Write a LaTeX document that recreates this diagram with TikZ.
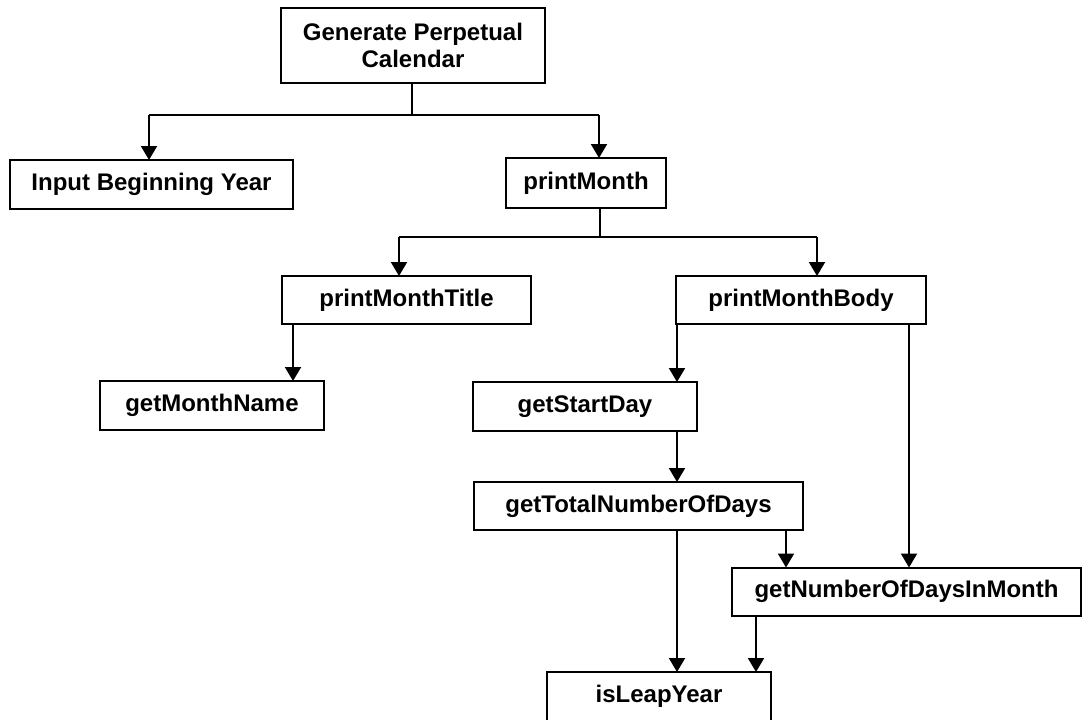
\documentclass[tikz,border=0pt]{standalone}
\usepackage{fontspec}
\setmainfont{Liberation Sans}
\usetikzlibrary{arrows.meta}
\begin{document}
\begin{tikzpicture}[x=0.5pt,y=-0.5pt,
  box/.style={draw,line width=1pt,rectangle,inner sep=0pt,outer sep=0pt,
    font=\bfseries\fontsize{12pt}{13.8pt}\selectfont,align=center},
  tline/.style={line width=0.7pt},
  arr/.style={line width=1pt,-{Triangle[width=8pt,length=7pt]}}]
\useasboundingbox (0,0) rectangle (1082,719);
% boxes
\node[box,minimum width=132pt,minimum height=37.5pt] (gen) at (413,45.5) {Generate Perpetual\\Calendar};
\node[box,minimum width=141.5pt,minimum height=24.5pt] (input) at (151.5,184.5) {Input Beginning Year};
\node[box,minimum width=80pt,minimum height=25pt] (pm) at (586,183) {printMonth};
\node[box,minimum width=124.5pt,minimum height=24pt] (pmt) at (406.5,300) {printMonthTitle};
\node[box,minimum width=125pt,minimum height=24pt] (pmb) at (801,300) {printMonthBody};
\node[box,minimum width=112pt,minimum height=24.5pt] (gmn) at (212,405.5) {getMonthName};
\node[box,minimum width=112pt,minimum height=24.5pt] (gsd) at (585,406.5) {getStartDay};
\node[box,minimum width=164.5pt,minimum height=24pt] (gtd) at (638.5,506) {getTotalNumberOfDays};
\node[box,minimum width=174.5pt,minimum height=24pt] (gnd) at (906.5,591.5) {getNumberOfDaysInMonth};
\node[box,minimum width=112pt,minimum height=24.5pt] (ily) at (659,696.5) {isLeapYear};
% junction coordinates
\coordinate (hl1) at (149,115);
\coordinate (hm1) at (412,115);
\coordinate (hr1) at (599,115);
\coordinate (hl2) at (399,237);
\coordinate (hm2) at (600,237);
\coordinate (hr2) at (817,237);
\coordinate (xa) at (293,0);
\coordinate (xb) at (677,0);
\coordinate (xc) at (909,0);
\coordinate (xd) at (786,0);
\coordinate (xe) at (756,0);
% connectors
\draw[tline] (gen.south -| hm1) -- (hm1);
\draw[tline] (hl1) -- (hr1);
\draw[arr] (hl1) -- (hl1 |- input.north);
\draw[arr] (hr1) -- (hr1 |- pm.north);
\draw[tline] (pm.south -| hm2) -- (hm2);
\draw[tline] (hl2) -- (hr2);
\draw[arr] (hl2) -- (hl2 |- pmt.north);
\draw[arr] (hr2) -- (hr2 |- pmb.north);
\draw[arr] (pmt.south -| xa) -- (gmn.north -| xa);
\draw[arr] (pmb.south -| xb) -- (gsd.north -| xb);
\draw[arr] (pmb.south -| xc) -- (gnd.north -| xc);
\draw[arr] (gsd.south -| xb) -- (gtd.north -| xb);
\draw[arr] (gtd.south -| xb) -- (ily.north -| xb);
\draw[arr] (gtd.south -| xd) -- (gnd.north -| xd);
\draw[arr] (gnd.south -| xe) -- (ily.north -| xe);
\end{tikzpicture}
\end{document}
